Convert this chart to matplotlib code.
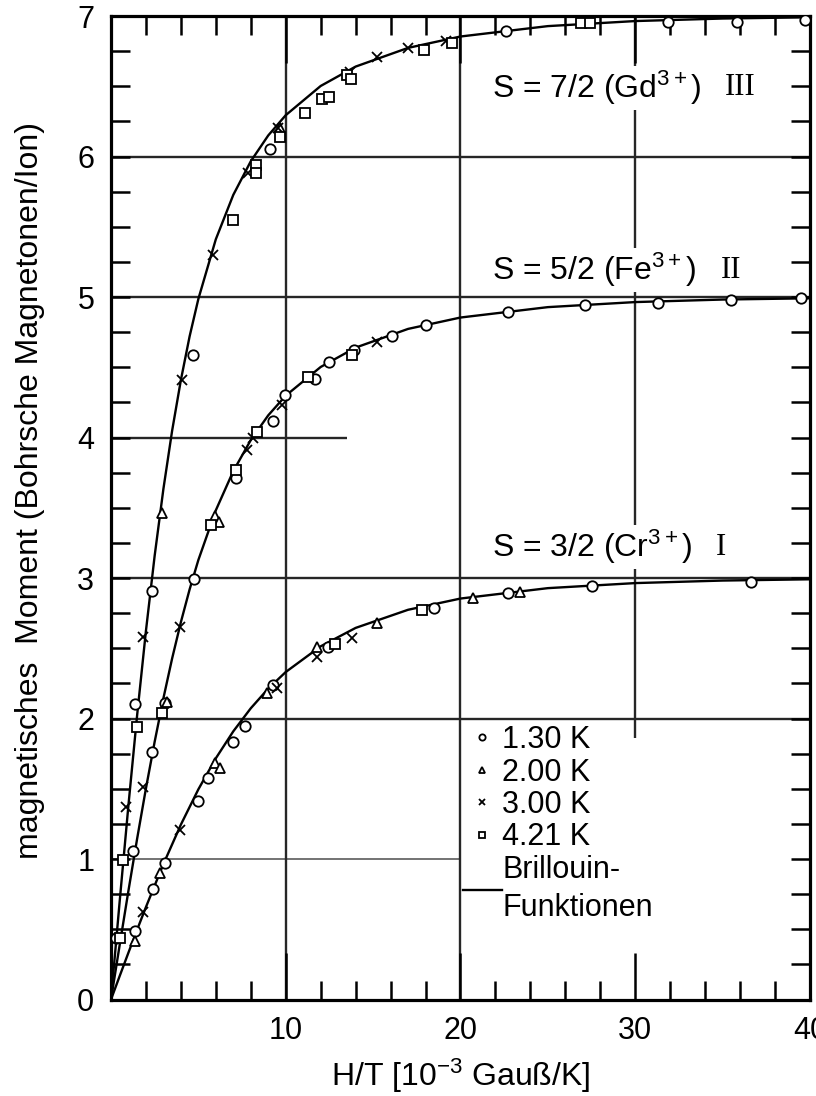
import matplotlib.pyplot as plt

plt.rcParams['font.family'] = ['Liberation Sans', 'DejaVu Sans']
plt.rcParams['mathtext.fontset'] = 'custom'
plt.rcParams['mathtext.rm'] = 'Liberation Sans'
plt.rcParams['mathtext.it'] = 'Liberation Sans:italic'

# Brillouin curves (H/T, moment)
bx_cr = [0, 0.5, 1, 1.5, 2, 3, 4, 5, 6, 7, 8, 9, 10, 12, 14, 17, 20, 25, 30, 35, 40]
by_cr = [0, 0.168, 0.334, 0.498, 0.658, 0.964, 1.245, 1.496, 1.717, 1.909, 2.073,
         2.213, 2.331, 2.514, 2.645, 2.774, 2.854, 2.928, 2.964, 2.982, 2.991]
bx_fe = [0, 0.5, 1, 1.5, 2, 2.5, 3, 3.5, 4, 4.5, 5, 6, 7, 8, 9, 10, 12, 14, 17, 20, 25, 30, 35, 40]
by_fe = [0, 0.390, 0.775, 1.147, 1.502, 1.835, 2.144, 2.428, 2.686, 2.919, 3.128, 3.482,
         3.761, 3.982, 4.158, 4.298, 4.502, 4.640, 4.773, 4.854, 4.928, 4.964, 4.982, 4.991]
bx_gd = [0, 0.5, 1, 1.5, 2, 2.5, 3, 3.5, 4, 4.5, 5, 6, 7, 8, 9, 10, 12, 14, 17, 20, 25, 30, 35, 40]
by_gd = [0, 0.702, 1.384, 2.028, 2.623, 3.159, 3.634, 4.049, 4.409, 4.720, 4.986, 5.411,
         5.727, 5.966, 6.150, 6.294, 6.502, 6.640, 6.773, 6.854, 6.928, 6.964, 6.982, 6.991]

# measured points, per temperature
h130 = [1.37, 2.4, 3.09, 4.97, 5.55, 6.97, 7.66, 9.27, 12.4, 18.5, 22.7, 27.5, 36.6,
        1.26, 2.34, 3.1, 4.74, 7.18, 9.3, 9.94, 11.65, 12.5, 13.9, 16.1, 18.05, 22.7, 27.1, 31.3, 35.5, 39.5,
        0.3, 1.37, 2.34, 4.7, 9.09, 22.6, 31.9, 35.8, 39.7]
m130 = [0.49, 0.79, 0.97, 1.41, 1.58, 1.83, 1.95, 2.24, 2.51, 2.79, 2.89, 2.94, 2.97,
        1.06, 1.76, 2.11, 2.99, 3.71, 4.12, 4.30, 4.42, 4.54, 4.62, 4.72, 4.80, 4.89, 4.94, 4.96, 4.98, 4.99,
        0.44, 2.10, 2.91, 4.59, 6.05, 6.89, 6.96, 6.96, 6.97]
h200 = [1.37, 2.8, 5.94, 6.23, 8.9, 11.8, 15.2, 20.7, 23.4,
        3.18, 5.95, 6.2,
        2.91, 9.7]
m200 = [0.42, 0.90, 1.68, 1.65, 2.18, 2.51, 2.68, 2.86, 2.90,
        2.12, 3.44, 3.40,
        3.46, 6.2]
h300 = [1.83, 3.94, 9.5, 11.8, 13.8,
        1.83, 3.94, 7.8, 8.1, 9.8, 15.2,
        0.85, 1.83, 4.04, 5.83, 7.85, 9.55, 13.7, 15.2, 17.0, 19.2]
m300 = [0.62, 1.21, 2.22, 2.44, 2.57,
        1.51, 2.65, 3.91, 4.0, 4.23, 4.68,
        1.37, 2.58, 4.41, 5.30, 5.88, 6.2, 6.6, 6.71, 6.77, 6.82]
h421 = [12.8, 17.8,
        0.5, 2.9, 5.75, 7.18, 8.34, 11.3, 13.8,
        0.69, 1.48, 6.97, 8.3, 8.3, 9.66, 11.1, 12.05, 12.5, 13.5, 13.75, 17.9, 19.5, 26.9, 27.4]
m421 = [2.53, 2.77,
        0.44, 2.04, 3.38, 3.77, 4.04, 4.43, 4.59,
        0.99, 1.94, 5.55, 5.94, 5.88, 6.14, 6.31, 6.41, 6.42, 6.58, 6.55, 6.76, 6.81, 6.95, 6.95]

xticks = [10, 20, 30, 40]
yticks = [0, 1, 2, 3, 4, 5, 6, 7]

fig = plt.figure(figsize=(8.16, 10.96), dpi=100)
ax = fig.add_axes([0.136, 0.088, 0.8566, 0.8974])
ax.set_xlim(0, 40)
ax.set_ylim(0, 7)

# the drawn reference lines of the original
gcol = '0.15'
ax.hlines([2, 3, 5, 6], 0, 40, color=gcol, lw=1.7, zorder=1)
ax.hlines(4, 0, 13.5, color=gcol, lw=1.7, zorder=1)
ax.hlines(1, 0, 20, color='0.45', lw=1.4, zorder=1)
ax.vlines([10, 20], 0, 7, color=gcol, lw=1.7, zorder=1)
ax.vlines(30, 1.86, 7, color=gcol, lw=1.7, zorder=1)

line, = ax.plot(bx_cr, by_cr, color='black', lw=1.7, zorder=2)
ax.plot(bx_fe, by_fe, color='black', lw=1.7, zorder=2)
ax.plot(bx_gd, by_gd, color='black', lw=1.7, zorder=2)

mk = dict(ls='none', color='black', mfc='white', mec='black', mew=1.3, zorder=3)
p1, = ax.plot(h130, m130, marker='o', ms=7.5, **mk)
p2, = ax.plot(h200, m200, marker='^', ms=7.5, **mk)
p3, = ax.plot(h300, m300, marker='x', ms=6.5, **mk)
p4, = ax.plot(h421, m421, marker='s', ms=7, **mk)

leg = ax.legend([p1, p2, p3, p4, line],
                ['1.30 K', '2.00 K', '3.00 K', '4.21 K', 'Brillouin-\nFunktionen'],
                loc='upper left', bbox_to_anchor=(0.503, 0.279), frameon=False,
                fontsize=22, markerscale=0.6, handlelength=1.3, handletextpad=0.0,
                labelspacing=0.08, borderpad=0, borderaxespad=0)
for t in leg.get_texts():
    t.set_linespacing(1.37)

bb = dict(facecolor='white', edgecolor='none', pad=2)
ax.text(21.8, 6.49, 'S = 7/2 (Gd$^{3+}$)', fontsize=23, va='center', bbox=bb, zorder=4)
ax.text(21.8, 5.19, 'S = 5/2 (Fe$^{3+}$)', fontsize=23, va='center', bbox=bb, zorder=4)
ax.text(21.8, 3.22, 'S = 3/2 (Cr$^{3+}$)', fontsize=23, va='center', bbox=bb, zorder=4)
ax.text(36.0, 6.49, 'III', fontsize=22, va='center', ha='center', family='Liberation Serif')
ax.text(35.5, 5.19, 'II', fontsize=22, va='center', ha='center', family='Liberation Serif')
ax.text(34.9, 3.22, 'I', fontsize=22, va='center', ha='center', family='Liberation Serif')

ax.set_xticks(xticks)
ax.set_yticks(yticks)
ax.set_xticks(range(2, 40, 2), minor=True)
ax.set_yticks([i * 0.25 for i in range(29) if i % 4], minor=True)
ax.tick_params(which='both', direction='in', top=True, right=True,
               width=1.8, length=14, labelsize=22, pad=12)
ax.tick_params(axis='x', which='major', length=34)
for s in ax.spines.values():
    s.set_linewidth(2.3)

ax.set_xlabel('H/T [10$^{-3}$ Gauß/K]', fontsize=23)
ax.set_ylabel('magnetisches  Moment (Bohrsche Magnetonen/Ion)', fontsize=23)
ax.xaxis.set_label_coords(0.5, -0.058)
ax.yaxis.set_label_coords(-0.095, 0.518)

fig.savefig('out.png', dpi=100)
